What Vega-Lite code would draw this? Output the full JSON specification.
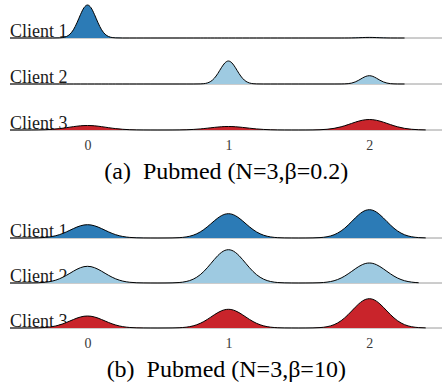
{
  "$schema": "https://vega.github.io/schema/vega-lite/v6.json",
  "padding": {"left": 8, "top": 0, "right": 0, "bottom": 0},
  "config": {
    "view": {"stroke": null},
    "font": "Liberation Serif",
    "text": {"font": "Liberation Serif"},
    "axis": {"labelFont": "Liberation Serif"},
    "facet": {"spacing": 8}
  },
  "spacing": 16,
  "datasets": {
    "pa": [
      {"x": -0.55, "Client 1": 0, "Client 2": 0, "Client 3": 0},
      {"x": -0.5, "Client 1": 0, "Client 2": 0, "Client 3": 0},
      {"x": -0.45, "Client 1": 0, "Client 2": 0, "Client 3": 0.01},
      {"x": -0.4, "Client 1": 0, "Client 2": 0, "Client 3": 0.04},
      {"x": -0.35, "Client 1": 0, "Client 2": 0, "Client 3": 0.12},
      {"x": -0.3, "Client 1": 0, "Client 2": 0, "Client 3": 0.31},
      {"x": -0.25, "Client 1": 0, "Client 2": 0, "Client 3": 0.71},
      {"x": -0.2, "Client 1": 0.13, "Client 2": 0, "Client 3": 1.38},
      {"x": -0.175, "Client 1": 0.46, "Client 2": 0, "Client 3": 1.82},
      {"x": -0.15, "Client 1": 1.45, "Client 2": 0, "Client 3": 2.31},
      {"x": -0.125, "Client 1": 3.76, "Client 2": 0, "Client 3": 2.83},
      {"x": -0.1, "Client 1": 8.22, "Client 2": 0, "Client 3": 3.35},
      {"x": -0.075, "Client 1": 15.11, "Client 2": 0, "Client 3": 3.81},
      {"x": -0.05, "Client 1": 23.33, "Client 2": 0, "Client 3": 4.18},
      {"x": -0.025, "Client 1": 30.26, "Client 2": 0, "Client 3": 4.42},
      {"x": 0, "Client 1": 33, "Client 2": 0, "Client 3": 4.5},
      {"x": 0.025, "Client 1": 30.26, "Client 2": 0, "Client 3": 4.42},
      {"x": 0.05, "Client 1": 23.33, "Client 2": 0, "Client 3": 4.18},
      {"x": 0.075, "Client 1": 15.11, "Client 2": 0, "Client 3": 3.81},
      {"x": 0.1, "Client 1": 8.22, "Client 2": 0, "Client 3": 3.35},
      {"x": 0.125, "Client 1": 3.76, "Client 2": 0, "Client 3": 2.83},
      {"x": 0.15, "Client 1": 1.45, "Client 2": 0, "Client 3": 2.31},
      {"x": 0.175, "Client 1": 0.46, "Client 2": 0, "Client 3": 1.82},
      {"x": 0.2, "Client 1": 0.13, "Client 2": 0, "Client 3": 1.38},
      {"x": 0.25, "Client 1": 0, "Client 2": 0, "Client 3": 0.71},
      {"x": 0.3, "Client 1": 0, "Client 2": 0, "Client 3": 0.31},
      {"x": 0.35, "Client 1": 0, "Client 2": 0, "Client 3": 0.12},
      {"x": 0.4, "Client 1": 0, "Client 2": 0, "Client 3": 0.04},
      {"x": 0.45, "Client 1": 0, "Client 2": 0, "Client 3": 0.01},
      {"x": 0.5, "Client 1": 0, "Client 2": 0, "Client 3": 0},
      {"x": 0.55, "Client 1": 0, "Client 2": 0, "Client 3": 0.01},
      {"x": 0.6, "Client 1": 0, "Client 2": 0, "Client 3": 0.03},
      {"x": 0.65, "Client 1": 0, "Client 2": 0, "Client 3": 0.09},
      {"x": 0.7, "Client 1": 0, "Client 2": 0, "Client 3": 0.24},
      {"x": 0.75, "Client 1": 0, "Client 2": 0, "Client 3": 0.55},
      {"x": 0.8, "Client 1": 0, "Client 2": 0.09, "Client 3": 1.07},
      {"x": 0.825, "Client 1": 0, "Client 2": 0.32, "Client 3": 1.41},
      {"x": 0.85, "Client 1": 0, "Client 2": 1.01, "Client 3": 1.8},
      {"x": 0.875, "Client 1": 0, "Client 2": 2.62, "Client 3": 2.2},
      {"x": 0.9, "Client 1": 0, "Client 2": 5.73, "Client 3": 2.6},
      {"x": 0.925, "Client 1": 0, "Client 2": 10.53, "Client 3": 2.96},
      {"x": 0.95, "Client 1": 0, "Client 2": 16.26, "Client 3": 3.25},
      {"x": 0.975, "Client 1": 0, "Client 2": 21.09, "Client 3": 3.44},
      {"x": 1, "Client 1": 0, "Client 2": 23, "Client 3": 3.5},
      {"x": 1.025, "Client 1": 0, "Client 2": 21.09, "Client 3": 3.44},
      {"x": 1.05, "Client 1": 0, "Client 2": 16.26, "Client 3": 3.25},
      {"x": 1.075, "Client 1": 0, "Client 2": 10.53, "Client 3": 2.96},
      {"x": 1.1, "Client 1": 0, "Client 2": 5.73, "Client 3": 2.6},
      {"x": 1.125, "Client 1": 0, "Client 2": 2.62, "Client 3": 2.2},
      {"x": 1.15, "Client 1": 0, "Client 2": 1.01, "Client 3": 1.8},
      {"x": 1.175, "Client 1": 0, "Client 2": 0.32, "Client 3": 1.41},
      {"x": 1.2, "Client 1": 0, "Client 2": 0.09, "Client 3": 1.07},
      {"x": 1.25, "Client 1": 0, "Client 2": 0, "Client 3": 0.55},
      {"x": 1.3, "Client 1": 0, "Client 2": 0, "Client 3": 0.24},
      {"x": 1.35, "Client 1": 0, "Client 2": 0, "Client 3": 0.09},
      {"x": 1.4, "Client 1": 0, "Client 2": 0, "Client 3": 0.03},
      {"x": 1.45, "Client 1": 0, "Client 2": 0, "Client 3": 0.01},
      {"x": 1.5, "Client 1": 0, "Client 2": 0, "Client 3": 0.01},
      {"x": 1.55, "Client 1": 0, "Client 2": 0, "Client 3": 0.03},
      {"x": 1.6, "Client 1": 0, "Client 2": 0, "Client 3": 0.09},
      {"x": 1.65, "Client 1": 0, "Client 2": 0, "Client 3": 0.28},
      {"x": 1.7, "Client 1": 0, "Client 2": 0, "Client 3": 0.73},
      {"x": 1.75, "Client 1": 0, "Client 2": 0, "Client 3": 1.65},
      {"x": 1.8, "Client 1": 0, "Client 2": 0.03, "Client 3": 3.21},
      {"x": 1.825, "Client 1": 0.01, "Client 2": 0.12, "Client 3": 4.24},
      {"x": 1.85, "Client 1": 0.03, "Client 2": 0.37, "Client 3": 5.4},
      {"x": 1.875, "Client 1": 0.07, "Client 2": 0.95, "Client 3": 6.61},
      {"x": 1.9, "Client 1": 0.15, "Client 2": 2.07, "Client 3": 7.81},
      {"x": 1.925, "Client 1": 0.27, "Client 2": 3.8, "Client 3": 8.89},
      {"x": 1.95, "Client 1": 0.42, "Client 2": 5.87, "Client 3": 9.75},
      {"x": 1.975, "Client 1": 0.55, "Client 2": 7.61, "Client 3": 10.31},
      {"x": 2, "Client 1": 0.6, "Client 2": 8.3, "Client 3": 10.5},
      {"x": 2.025, "Client 1": 0.55, "Client 2": 7.61, "Client 3": 10.31},
      {"x": 2.05, "Client 1": 0.42, "Client 2": 5.87, "Client 3": 9.75},
      {"x": 2.075, "Client 1": 0.27, "Client 2": 3.8, "Client 3": 8.89},
      {"x": 2.1, "Client 1": 0.15, "Client 2": 2.07, "Client 3": 7.81},
      {"x": 2.125, "Client 1": 0.07, "Client 2": 0.95, "Client 3": 6.61},
      {"x": 2.15, "Client 1": 0.03, "Client 2": 0.37, "Client 3": 5.4},
      {"x": 2.175, "Client 1": 0.01, "Client 2": 0.12, "Client 3": 4.24},
      {"x": 2.2, "Client 1": 0, "Client 2": 0.03, "Client 3": 3.21},
      {"x": 2.25, "Client 1": 0, "Client 2": 0, "Client 3": 1.65},
      {"x": 2.3, "Client 1": null, "Client 2": null, "Client 3": 0.73},
      {"x": 2.35, "Client 1": null, "Client 2": null, "Client 3": 0.28},
      {"x": 2.4, "Client 1": null, "Client 2": null, "Client 3": 0.09},
      {"x": 2.45, "Client 1": null, "Client 2": null, "Client 3": null},
      {"x": 2.53, "Client 1": null, "Client 2": null, "Client 3": null}
    ],
    "pb": [
      {"x": -0.55, "Client 1": 0, "Client 2": 0, "Client 3": 0},
      {"x": -0.5, "Client 1": 0, "Client 2": 0, "Client 3": 0},
      {"x": -0.45, "Client 1": 0.01, "Client 2": 0.01, "Client 3": 0.01},
      {"x": -0.4, "Client 1": 0.05, "Client 2": 0.07, "Client 3": 0.05},
      {"x": -0.35, "Client 1": 0.19, "Client 2": 0.23, "Client 3": 0.17},
      {"x": -0.3, "Client 1": 0.59, "Client 2": 0.73, "Client 3": 0.53},
      {"x": -0.25, "Client 1": 1.52, "Client 2": 1.9, "Client 3": 1.37},
      {"x": -0.2, "Client 1": 3.31, "Client 2": 4.16, "Client 3": 2.99},
      {"x": -0.175, "Client 1": 4.59, "Client 2": 5.76, "Client 3": 4.14},
      {"x": -0.15, "Client 1": 6.09, "Client 2": 7.65, "Client 3": 5.5},
      {"x": -0.125, "Client 1": 7.73, "Client 2": 9.7, "Client 3": 6.97},
      {"x": -0.1, "Client 1": 9.4, "Client 2": 11.81, "Client 3": 8.48},
      {"x": -0.075, "Client 1": 10.95, "Client 2": 13.74, "Client 3": 9.88},
      {"x": -0.05, "Client 1": 12.2, "Client 2": 15.31, "Client 3": 11.0},
      {"x": -0.025, "Client 1": 13.02, "Client 2": 16.35, "Client 3": 11.75},
      {"x": 0, "Client 1": 13.3, "Client 2": 16.7, "Client 3": 12},
      {"x": 0.025, "Client 1": 13.02, "Client 2": 16.35, "Client 3": 11.75},
      {"x": 0.05, "Client 1": 12.2, "Client 2": 15.31, "Client 3": 11.0},
      {"x": 0.075, "Client 1": 10.95, "Client 2": 13.74, "Client 3": 9.88},
      {"x": 0.1, "Client 1": 9.4, "Client 2": 11.81, "Client 3": 8.48},
      {"x": 0.125, "Client 1": 7.73, "Client 2": 9.7, "Client 3": 6.97},
      {"x": 0.15, "Client 1": 6.09, "Client 2": 7.65, "Client 3": 5.5},
      {"x": 0.175, "Client 1": 4.59, "Client 2": 5.76, "Client 3": 4.14},
      {"x": 0.2, "Client 1": 3.31, "Client 2": 4.16, "Client 3": 2.99},
      {"x": 0.25, "Client 1": 1.52, "Client 2": 1.9, "Client 3": 1.37},
      {"x": 0.3, "Client 1": 0.59, "Client 2": 0.73, "Client 3": 0.53},
      {"x": 0.35, "Client 1": 0.19, "Client 2": 0.23, "Client 3": 0.17},
      {"x": 0.4, "Client 1": 0.05, "Client 2": 0.07, "Client 3": 0.05},
      {"x": 0.45, "Client 1": 0.01, "Client 2": 0.01, "Client 3": 0.01},
      {"x": 0.5, "Client 1": 0, "Client 2": 0, "Client 3": 0},
      {"x": 0.55, "Client 1": 0.02, "Client 2": 0.03, "Client 3": 0.02},
      {"x": 0.6, "Client 1": 0.09, "Client 2": 0.13, "Client 3": 0.07},
      {"x": 0.65, "Client 1": 0.34, "Client 2": 0.47, "Client 3": 0.26},
      {"x": 0.7, "Client 1": 1.07, "Client 2": 1.47, "Client 3": 0.82},
      {"x": 0.75, "Client 1": 2.77, "Client 2": 3.8, "Client 3": 2.13},
      {"x": 0.8, "Client 1": 6.05, "Client 2": 8.29, "Client 3": 4.66},
      {"x": 0.825, "Client 1": 8.38, "Client 2": 11.49, "Client 3": 6.45},
      {"x": 0.85, "Client 1": 11.13, "Client 2": 15.25, "Client 3": 8.56},
      {"x": 0.875, "Client 1": 14.12, "Client 2": 19.35, "Client 3": 10.86},
      {"x": 0.9, "Client 1": 17.18, "Client 2": 23.54, "Client 3": 13.22},
      {"x": 0.925, "Client 1": 20.0, "Client 2": 27.41, "Client 3": 15.39},
      {"x": 0.95, "Client 1": 22.28, "Client 2": 30.54, "Client 3": 17.15},
      {"x": 0.975, "Client 1": 23.79, "Client 2": 32.6, "Client 3": 18.31},
      {"x": 1, "Client 1": 24.3, "Client 2": 33.3, "Client 3": 18.7},
      {"x": 1.025, "Client 1": 23.79, "Client 2": 32.6, "Client 3": 18.31},
      {"x": 1.05, "Client 1": 22.28, "Client 2": 30.54, "Client 3": 17.15},
      {"x": 1.075, "Client 1": 20.0, "Client 2": 27.41, "Client 3": 15.39},
      {"x": 1.1, "Client 1": 17.18, "Client 2": 23.54, "Client 3": 13.22},
      {"x": 1.125, "Client 1": 14.12, "Client 2": 19.35, "Client 3": 10.86},
      {"x": 1.15, "Client 1": 11.13, "Client 2": 15.25, "Client 3": 8.56},
      {"x": 1.175, "Client 1": 8.38, "Client 2": 11.49, "Client 3": 6.45},
      {"x": 1.2, "Client 1": 6.05, "Client 2": 8.29, "Client 3": 4.66},
      {"x": 1.25, "Client 1": 2.77, "Client 2": 3.8, "Client 3": 2.13},
      {"x": 1.3, "Client 1": 1.07, "Client 2": 1.47, "Client 3": 0.82},
      {"x": 1.35, "Client 1": 0.34, "Client 2": 0.47, "Client 3": 0.26},
      {"x": 1.4, "Client 1": 0.09, "Client 2": 0.13, "Client 3": 0.07},
      {"x": 1.45, "Client 1": 0.02, "Client 2": 0.03, "Client 3": 0.02},
      {"x": 1.5, "Client 1": 0, "Client 2": 0, "Client 3": 0},
      {"x": 1.55, "Client 1": 0.03, "Client 2": 0.02, "Client 3": 0.03},
      {"x": 1.6, "Client 1": 0.11, "Client 2": 0.08, "Client 3": 0.12},
      {"x": 1.65, "Client 1": 0.4, "Client 2": 0.28, "Client 3": 0.41},
      {"x": 1.7, "Client 1": 1.25, "Client 2": 0.88, "Client 3": 1.29},
      {"x": 1.75, "Client 1": 3.23, "Client 2": 2.28, "Client 3": 3.34},
      {"x": 1.8, "Client 1": 7.05, "Client 2": 4.98, "Client 3": 7.3},
      {"x": 1.825, "Client 1": 9.76, "Client 2": 6.9, "Client 3": 10.11},
      {"x": 1.85, "Client 1": 12.96, "Client 2": 9.16, "Client 3": 13.42},
      {"x": 1.875, "Client 1": 16.44, "Client 2": 11.62, "Client 3": 17.02},
      {"x": 1.9, "Client 1": 20.01, "Client 2": 14.14, "Client 3": 20.72},
      {"x": 1.925, "Client 1": 23.29, "Client 2": 16.46, "Client 3": 24.11},
      {"x": 1.95, "Client 1": 25.95, "Client 2": 18.34, "Client 3": 26.87},
      {"x": 1.975, "Client 1": 27.71, "Client 2": 19.58, "Client 3": 28.68},
      {"x": 2, "Client 1": 28.3, "Client 2": 20, "Client 3": 29.3},
      {"x": 2.025, "Client 1": 27.71, "Client 2": 19.58, "Client 3": 28.68},
      {"x": 2.05, "Client 1": 25.95, "Client 2": 18.34, "Client 3": 26.87},
      {"x": 2.075, "Client 1": 23.29, "Client 2": 16.46, "Client 3": 24.11},
      {"x": 2.1, "Client 1": 20.01, "Client 2": 14.14, "Client 3": 20.72},
      {"x": 2.125, "Client 1": 16.44, "Client 2": 11.62, "Client 3": 17.02},
      {"x": 2.15, "Client 1": 12.96, "Client 2": 9.16, "Client 3": 13.42},
      {"x": 2.175, "Client 1": 9.76, "Client 2": 6.9, "Client 3": 10.11},
      {"x": 2.2, "Client 1": 7.05, "Client 2": 4.98, "Client 3": 7.3},
      {"x": 2.25, "Client 1": 3.23, "Client 2": 2.28, "Client 3": 3.34},
      {"x": 2.3, "Client 1": 1.25, "Client 2": 0.88, "Client 3": 1.29},
      {"x": 2.35, "Client 1": 0.4, "Client 2": 0.28, "Client 3": 0.41},
      {"x": 2.4, "Client 1": 0.11, "Client 2": null, "Client 3": 0.12},
      {"x": 2.45, "Client 1": null, "Client 2": null, "Client 3": null},
      {"x": 2.53, "Client 1": null, "Client 2": null, "Client 3": null}
    ]
  },
  "vconcat": [
    {
      "data": {"name": "pa"},
      "transform": [{"fold": ["Client 1", "Client 2", "Client 3"], "as": ["c", "d"]}],
      "title": {"text": "(a)\u00a0 Pubmed (N=3,β=0.2)", "orient": "bottom", "anchor": "middle", "font": "Liberation Serif", "fontSize": 24, "fontWeight": "normal", "color": "black", "offset": 8},
      "facet": {"row": {"field": "c", "type": "nominal", "header": null}},
      "spacing": 8,
      "bounds": "flush",
      "spec": {
        "width": 434,
        "height": 38,
        "layer": [
          {"transform": [{"filter": "datum.x == -0.55"}], "mark": {"type": "rule", "color": "#9a9a9a", "strokeWidth": 1},
            "encoding": {"x": {"datum": -0.55, "type": "quantitative"}, "x2": {"datum": 2.53}, "y": {"datum": 0, "type": "quantitative", "scale": {"domain": [0, 38], "nice": false, "zero": true}, "axis": null}}},
          {"transform": [{"filter": "datum.x == -0.55"}], "mark": {"type": "text", "align": "left", "baseline": "alphabetic", "font": "Liberation Serif", "fontSize": 18, "dy": -1, "color": "#1a1a1a"},
            "encoding": {"x": {"field": "x", "type": "quantitative"}, "y": {"datum": 0, "type": "quantitative"}, "text": {"field": "c", "type": "nominal"}}},
          {"mark": {"type": "area", "interpolate": "monotone"},
            "encoding": {
              "x": {"field": "x", "type": "quantitative", "scale": {"domain": [-0.55, 2.53], "nice": false, "zero": false},
                "axis": {"values": [0, 1, 2], "format": "d", "title": null, "domain": false, "ticks": false, "tickSize": 0, "grid": false, "labelFont": "Liberation Serif", "labelFontSize": 14, "labelColor": "#3a3a3a", "labelPadding": 8}},
              "y": {"field": "d", "type": "quantitative", "scale": {"domain": [0, 38], "nice": false, "zero": true}},
              "color": {"field": "c", "type": "nominal", "scale": {"domain": ["Client 1", "Client 2", "Client 3"], "range": ["#2c7bb6", "#9ecae1", "#c9242b"]}, "legend": null}}},
          {"mark": {"type": "line", "interpolate": "monotone", "color": "black", "strokeWidth": 1},
            "encoding": {"x": {"field": "x", "type": "quantitative"}, "y": {"field": "d", "type": "quantitative"}}}
        ]
      }
    },
    {
      "data": {"name": "pb"},
      "transform": [{"fold": ["Client 1", "Client 2", "Client 3"], "as": ["c", "d"]}],
      "title": {"text": "(b)\u00a0 Pubmed (N=3,β=10)", "orient": "bottom", "anchor": "middle", "font": "Liberation Serif", "fontSize": 24, "fontWeight": "normal", "color": "black", "offset": 8},
      "facet": {"row": {"field": "c", "type": "nominal", "header": null}},
      "spacing": 7,
      "bounds": "flush",
      "spec": {
        "width": 434,
        "height": 38,
        "layer": [
          {"transform": [{"filter": "datum.x == -0.55"}], "mark": {"type": "rule", "color": "#9a9a9a", "strokeWidth": 1},
            "encoding": {"x": {"datum": -0.55, "type": "quantitative"}, "x2": {"datum": 2.53}, "y": {"datum": 0, "type": "quantitative", "scale": {"domain": [0, 38], "nice": false, "zero": true}, "axis": null}}},
          {"transform": [{"filter": "datum.x == -0.55"}], "mark": {"type": "text", "align": "left", "baseline": "alphabetic", "font": "Liberation Serif", "fontSize": 18, "dy": -1, "color": "#1a1a1a"},
            "encoding": {"x": {"field": "x", "type": "quantitative"}, "y": {"datum": 0, "type": "quantitative"}, "text": {"field": "c", "type": "nominal"}}},
          {"mark": {"type": "area", "interpolate": "monotone"},
            "encoding": {
              "x": {"field": "x", "type": "quantitative", "scale": {"domain": [-0.55, 2.53], "nice": false, "zero": false},
                "axis": {"values": [0, 1, 2], "format": "d", "title": null, "domain": false, "ticks": false, "tickSize": 0, "grid": false, "labelFont": "Liberation Serif", "labelFontSize": 14, "labelColor": "#3a3a3a", "labelPadding": 8}},
              "y": {"field": "d", "type": "quantitative", "scale": {"domain": [0, 38], "nice": false, "zero": true}},
              "color": {"field": "c", "type": "nominal", "scale": {"domain": ["Client 1", "Client 2", "Client 3"], "range": ["#2c7bb6", "#9ecae1", "#c9242b"]}, "legend": null}}},
          {"mark": {"type": "line", "interpolate": "monotone", "color": "black", "strokeWidth": 1},
            "encoding": {"x": {"field": "x", "type": "quantitative"}, "y": {"field": "d", "type": "quantitative"}}}
        ]
      }
    }
  ]
}
